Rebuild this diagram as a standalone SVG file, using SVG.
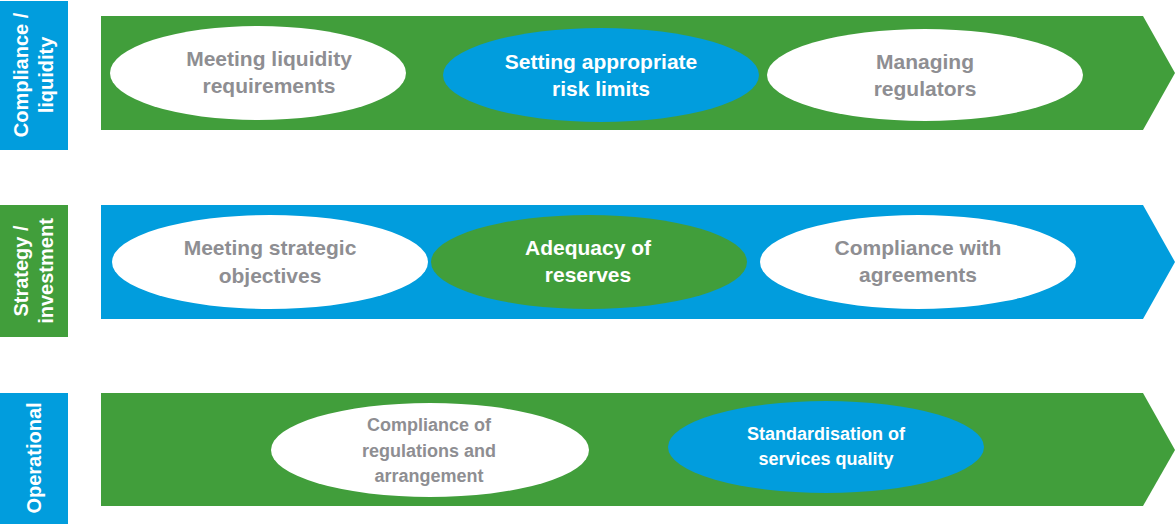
<svg xmlns="http://www.w3.org/2000/svg" width="1176" height="524" viewBox="0 0 1176 524">
<style>
.g{fill:#419E3B}
.b{fill:#019DDD}
.w{fill:#FFFFFF}
text{font-family:"Liberation Sans",Arial,sans-serif;font-weight:bold;text-anchor:middle}
.t{font-size:21px;fill:#8E8E92}
.tw{font-size:21px;fill:#FFFFFF}
.s{font-size:18px;fill:#8E8E92}
.sw{font-size:18px;fill:#FFFFFF}
.lab{font-size:20px;fill:#FFFFFF}
</style>
<rect width="1176" height="524" fill="#FFFFFF"/>
<g id="label-compliance">
<rect class="b" x="0" y="1" width="68" height="149"/>
<text class="lab" transform="translate(28,75) rotate(-90)">Compliance /</text>
<text class="lab" transform="translate(53,75) rotate(-90)">liquidity</text>
</g>
<g id="label-strategy">
<rect class="g" x="0" y="205" width="68" height="132"/>
<text class="lab" transform="translate(28,271) rotate(-90)">Strategy /</text>
<text class="lab" transform="translate(53,271) rotate(-90)">investment</text>
</g>
<g id="label-operational">
<rect class="b" x="0" y="393" width="68" height="131"/>
<text class="lab" transform="translate(41,458) rotate(-90)">Operational</text>
</g>
<g id="arrow-1"><polygon class="g" points="101,16 1143,16 1175,73 1143,130 101,130"/></g>
<g id="arrow-2"><polygon class="b" points="101,205 1143,205 1175,262 1143,319 101,319"/></g>
<g id="arrow-3"><polygon class="g" points="101,393 1143,393 1175,450 1143,506 101,506"/></g>
<g id="n-liquidity">
<ellipse class="w" cx="258" cy="73" rx="148" ry="47"/>
<text class="t" x="269" y="66">Meeting liquidity</text>
<text class="t" x="269" y="93">requirements</text>
</g>
<g id="n-risk">
<ellipse class="b" cx="601" cy="75" rx="158" ry="47"/>
<text class="tw" x="601" y="69">Setting appropriate</text>
<text class="tw" x="601" y="96">risk limits</text>
</g>
<g id="n-regulators">
<ellipse class="w" cx="925" cy="75" rx="158" ry="46"/>
<text class="t" x="925" y="69">Managing</text>
<text class="t" x="925" y="96">regulators</text>
</g>
<g id="n-strategic">
<ellipse class="w" cx="270" cy="262" rx="158" ry="47"/>
<text class="t" x="270" y="255">Meeting strategic</text>
<text class="t" x="270" y="283">objectives</text>
</g>
<g id="n-reserves">
<ellipse class="g" cx="589" cy="262" rx="158" ry="47"/>
<text class="tw" x="588" y="255">Adequacy of</text>
<text class="tw" x="588" y="282">reserves</text>
</g>
<g id="n-agreements">
<ellipse class="w" cx="918" cy="262" rx="158" ry="47"/>
<text class="t" x="918" y="255">Compliance with</text>
<text class="t" x="918" y="282">agreements</text>
</g>
<g id="n-regulations">
<ellipse class="w" cx="430" cy="450" rx="159" ry="47"/>
<text class="s" x="429" y="431">Compliance of</text>
<text class="s" x="429" y="457">regulations and</text>
<text class="s" x="429" y="482">arrangement</text>
</g>
<g id="n-services">
<ellipse class="b" cx="826" cy="447" rx="158" ry="46"/>
<text class="sw" x="826" y="440">Standardisation of</text>
<text class="sw" x="826" y="465">services quality</text>
</g>
<g id="connectors"></g>
</svg>
